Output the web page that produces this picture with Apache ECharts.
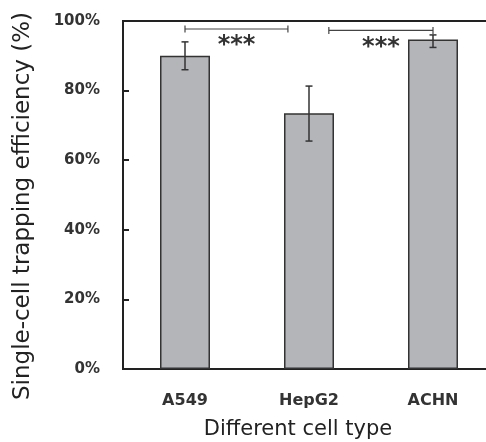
<!DOCTYPE html>
<html>
<head>
<meta charset="utf-8">
<script src="https://cdn.jsdelivr.net/npm/echarts@6/dist/echarts.min.js"></script>
<style>
  html, body { margin: 0; padding: 0; background: #fff; }
  #chart { width: 486px; height: 442px; }
</style>
</head>
<body>
<div id="chart"></div>
<script>
// data
var cellTypes = ['A549', 'HepG2', 'ACHN'];
var efficiency = [90.0, 73.5, 94.7];
var errLow = [86.0, 65.5, 92.4];
var errHigh = [94.0, 81.3, 96.0];
// significance brackets: start / end (category position), height (%)
var bracketFrom = [0, 1.16];
var bracketTo = [0.83, 2];
var bracketY = [97.7, 97.3];
var bracketMark = ['***', '***'];

var chart = echarts.init(document.getElementById('chart'));

var errData = cellTypes.map(function (c, i) { return [i, errLow[i], errHigh[i]]; });
var bracketData = bracketFrom.map(function (f, i) { return [f, bracketTo[i], bracketY[i]]; });

chart.setOption({
    animation: false,
    grid: {
        left: 123, width: 372, top: 21, bottom: 73,
        outerBoundsMode: 'none',
        show: true, borderColor: '#222', borderWidth: 2
    },
    xAxis: [
        {
            type: 'category',
            data: cellTypes,
            name: 'Different cell type',
            nameLocation: 'middle',
            nameGap: 50,
            nameTextStyle: { fontFamily: 'DejaVu Sans', fontSize: 21, color: '#222', padding: [0, 22, 0, 0] },
            axisLine: { lineStyle: { color: '#222', width: 2 } },
            axisTick: { inside: true, length: 6, lineStyle: { color: '#222', width: 2 } },
            axisLabel: { margin: 24, fontFamily: 'DejaVu Sans', fontWeight: 'bold', fontSize: 16, color: '#333' }
        },
        {
            // hidden helper axis so brackets can sit between categories
            type: 'value', min: -0.5, max: 2.5, show: false
        }
    ],
    yAxis: {
        type: 'value',
        min: 0, max: 100, interval: 20,
        axisLine: { show: true, onZero: false, lineStyle: { color: '#222', width: 2 } },
        axisTick: { show: true, inside: true, length: 6, lineStyle: { color: '#222', width: 2 } },
        splitLine: { show: false },
        axisLabel: {
            margin: 23, formatter: '{value}%',
            fontFamily: 'DejaVu Sans', fontWeight: 'bold', fontSize: 15, color: '#333'
        }
    },
    graphic: [{
        type: 'text',
        x: 23, y: 206,
        rotation: Math.PI / 2,
        style: {
            text: 'Single-cell trapping efficiency (%)',
            font: '23px "DejaVu Sans"',
            fill: '#222',
            align: 'center',
            verticalAlign: 'middle'
        }
    }],
    series: [
        {
            type: 'bar',
            data: efficiency,
            barWidth: 50,
            itemStyle: { color: '#b4b5b9', borderColor: '#333', borderWidth: 1.5 }
        },
        {
            type: 'custom',
            data: errData,
            z: 5,
            renderItem: function (params, api) {
                var lo = api.coord([api.value(0), api.value(1)]);
                var hi = api.coord([api.value(0), api.value(2)]);
                var st = { stroke: '#333', lineWidth: 1.5 };
                return {
                    type: 'group',
                    children: [
                        { type: 'line', shape: { x1: lo[0], y1: lo[1], x2: hi[0], y2: hi[1] }, style: st },
                        { type: 'line', shape: { x1: lo[0] - 3.5, y1: lo[1], x2: lo[0] + 3.5, y2: lo[1] }, style: st },
                        { type: 'line', shape: { x1: hi[0] - 3.5, y1: hi[1], x2: hi[0] + 3.5, y2: hi[1] }, style: st }
                    ]
                };
            }
        },
        {
            type: 'custom',
            xAxisIndex: 1,
            data: bracketData,
            z: 6,
            renderItem: function (params, api) {
                var a = api.coord([api.value(0), api.value(2)]);
                var b = api.coord([api.value(1), api.value(2)]);
                var st = { stroke: '#444', lineWidth: 1.2 };
                return {
                    type: 'group',
                    children: [
                        { type: 'line', shape: { x1: a[0], y1: a[1], x2: b[0], y2: b[1] }, style: st },
                        { type: 'line', shape: { x1: a[0], y1: a[1] - 3.5, x2: a[0], y2: a[1] + 3.5 }, style: st },
                        { type: 'line', shape: { x1: b[0], y1: b[1] - 3.5, x2: b[0], y2: b[1] + 3.5 }, style: st },
                        {
                            type: 'text',
                            x: (a[0] + b[0]) / 2, y: a[1] + 17,
                            style: {
                                text: bracketMark[params.dataIndex],
                                font: 'bold 24px "DejaVu Sans"',
                                fill: '#333',
                                align: 'center',
                                verticalAlign: 'middle'
                            }
                        }
                    ]
                };
            }
        }
    ]
});
</script>
</body>
</html>
